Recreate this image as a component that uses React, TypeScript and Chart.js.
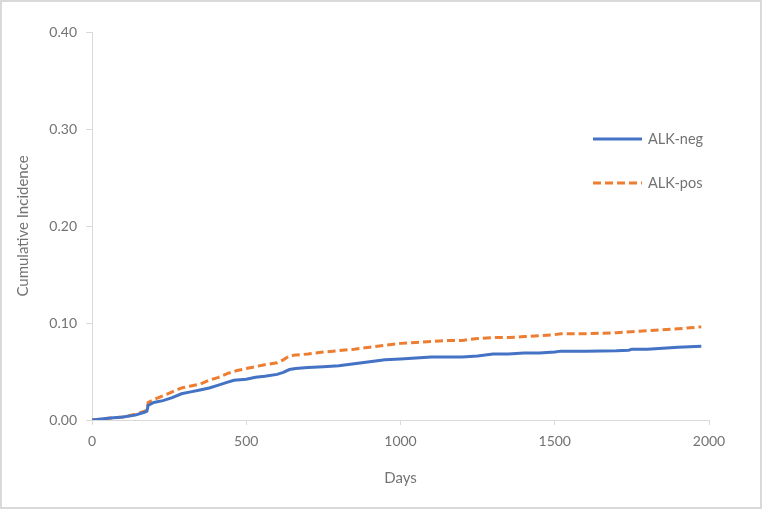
import React, { useEffect, useRef } from "react";
import { Chart, registerables } from "chart.js";

Chart.register(...registerables);

const seriesNames = ["ALK-neg", "ALK-pos"];
const seriesColors = ["#4472C4", "#ED7D31"];

const negDays = [0, 30, 60, 100, 140, 170, 178, 182, 200, 230, 260, 290, 320, 350, 380, 410, 440, 460, 500, 530, 560, 600, 620, 640, 660, 700, 750, 800, 850, 900, 950, 1000, 1050, 1100, 1150, 1200, 1250, 1300, 1350, 1400, 1450, 1500, 1520, 1600, 1700, 1740, 1750, 1800, 1850, 1900, 1975];
const negValues = [0, 0.001, 0.002, 0.003, 0.005, 0.008, 0.009, 0.015, 0.018, 0.02, 0.023, 0.027, 0.029, 0.031, 0.033, 0.036, 0.039, 0.041, 0.042, 0.044, 0.045, 0.047, 0.049, 0.052, 0.053, 0.054, 0.055, 0.056, 0.058, 0.06, 0.062, 0.063, 0.064, 0.065, 0.065, 0.065, 0.066, 0.068, 0.068, 0.069, 0.069, 0.07, 0.071, 0.071, 0.0715, 0.072, 0.073, 0.073, 0.074, 0.075, 0.076];

const posDays = [0, 30, 60, 100, 140, 170, 178, 182, 200, 230, 260, 290, 320, 350, 380, 410, 440, 470, 500, 530, 560, 600, 620, 640, 660, 700, 750, 800, 850, 900, 950, 1000, 1050, 1100, 1150, 1200, 1250, 1300, 1350, 1400, 1450, 1500, 1520, 1600, 1700, 1750, 1800, 1850, 1900, 1975];
const posValues = [0, 0.001, 0.002, 0.003, 0.006, 0.009, 0.01, 0.018, 0.021, 0.025, 0.029, 0.033, 0.035, 0.037, 0.041, 0.044, 0.048, 0.051, 0.053, 0.055, 0.057, 0.059, 0.062, 0.066, 0.067, 0.068, 0.07, 0.0715, 0.073, 0.075, 0.077, 0.079, 0.08, 0.081, 0.082, 0.082, 0.084, 0.085, 0.085, 0.086, 0.087, 0.088, 0.089, 0.089, 0.09, 0.091, 0.092, 0.093, 0.094, 0.096];

const xTicks = [0, 500, 1000, 1500, 2000];
const yTicks = [0, 0.1, 0.2, 0.3, 0.4];
const xTitle = "Days";
const yTitle = "Cumulative Incidence";

const FONT = "Lato, 'Open Sans', sans-serif";
const TEXT = "#737373";
const AXIS = "#d9d9d9";

const legendPlugin = {
  id: "customLegend",
  afterDraw(chart: any) {
    const ctx = chart.ctx;
    const ys = [139, 183];
    ctx.save();
    seriesNames.forEach((name, i) => {
      const y = ys[i];
      ctx.beginPath();
      ctx.strokeStyle = seriesColors[i];
      ctx.lineWidth = 3;
      ctx.setLineDash(i === 1 ? [8, 4] : []);
      ctx.moveTo(593, y);
      ctx.lineTo(642, y);
      ctx.stroke();
      ctx.setLineDash([]);
      ctx.fillStyle = TEXT;
      ctx.font = `14.5px ${FONT}`;
      ctx.textBaseline = "middle";
      ctx.textAlign = "left";
      ctx.fillText(name, 648, y);
    });
    ctx.restore();
  },
};

export default function App() {
  const ref = useRef<HTMLCanvasElement>(null);
  useEffect(() => {
    document.body.style.margin = "0";
    const chart = new Chart(ref.current as HTMLCanvasElement, {
      type: "line",
      data: {
        datasets: [
          {
            label: seriesNames[0],
            data: negDays.map((d, i) => ({ x: d, y: negValues[i] })),
            borderColor: seriesColors[0],
            backgroundColor: seriesColors[0],
            borderWidth: 3,
            pointRadius: 0,
            tension: 0,
          },
          {
            label: seriesNames[1],
            data: posDays.map((d, i) => ({ x: d, y: posValues[i] })),
            borderColor: seriesColors[1],
            backgroundColor: seriesColors[1],
            borderWidth: 3,
            borderDash: [8, 4],
            pointRadius: 0,
            tension: 0,
          },
        ],
      },
      options: {
        animation: false,
        responsive: false,
        maintainAspectRatio: false,
        layout: { padding: { top: 32, right: 53, left: 0, bottom: 0 } },
        plugins: { legend: { display: false }, tooltip: { enabled: false } },
        scales: {
          x: {
            type: "linear",
            min: 0,
            max: 2000,
            afterBuildTicks: (axis: any) => {
              axis.ticks = xTicks.map((v) => ({ value: v }));
            },
            afterFit: (axis: any) => {
              axis.height = 89;
            },
            grid: { display: true, drawOnChartArea: false, drawTicks: true, tickLength: 5, color: AXIS },
            border: { display: true, color: AXIS, width: 1 },
            ticks: { color: TEXT, font: { family: FONT, size: 14 }, padding: 8, maxRotation: 0, callback: (v: any) => String(v) },
            title: { display: true, text: xTitle, color: TEXT, font: { family: FONT, size: 15 }, padding: { top: 0, bottom: 22 } },
          },
          y: {
            type: "linear",
            min: 0,
            max: 0.4,
            afterBuildTicks: (axis: any) => {
              axis.ticks = yTicks.map((v) => ({ value: v }));
            },
            afterFit: (axis: any) => {
              axis.width = 92;
            },
            grid: { display: true, drawOnChartArea: false, drawTicks: true, tickLength: 6, color: AXIS },
            border: { display: true, color: AXIS, width: 1 },
            ticks: { color: TEXT, font: { family: FONT, size: 14 }, padding: 9, callback: (v: any) => Number(v).toFixed(2) },
            title: { display: true, text: yTitle, color: TEXT, font: { family: FONT, size: 15 }, padding: { top: 14, bottom: 0 } },
          },
        },
      },
      plugins: [legendPlugin],
    } as any);
    return () => chart.destroy();
  }, []);
  return (
    <div style={{ position: "relative", width: 762, height: 509 }}>
      <canvas ref={ref} width={762} height={509} style={{ display: "block", width: 762, height: 509 }} />
      <div style={{ position: "absolute", left: 0, top: 0, width: 762, height: 509, boxSizing: "border-box", border: "2px solid #d9d9d9", pointerEvents: "none" }} />
    </div>
  );
}
